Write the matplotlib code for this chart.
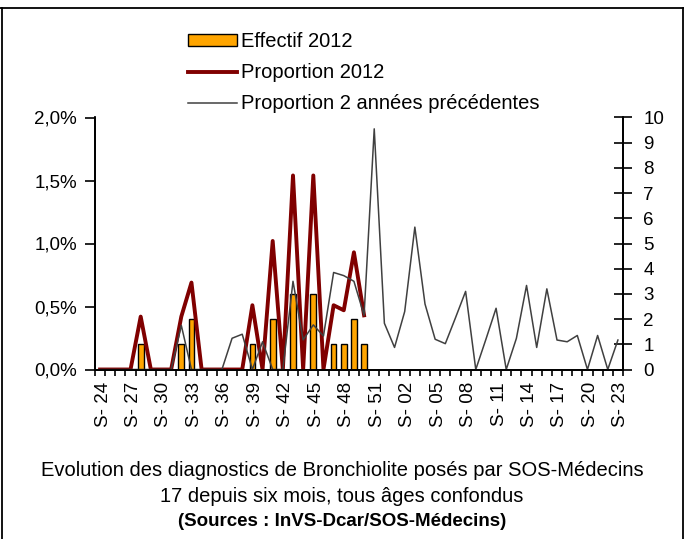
import matplotlib
matplotlib.use("Agg")
import matplotlib.pyplot as plt
import matplotlib.transforms as mtransforms
from matplotlib.lines import Line2D
from matplotlib.ticker import FuncFormatter

# weeks 24..52 of 2012 then 1..23 of 2013
weeks = list(range(24, 53)) + list(range(1, 24))
week_labels = [f"S- {w:02d}" for w in weeks]

# Effectif 2012 (right axis, counts)
effectif_2012 = [0, 0, 0, 0, 1, 0, 0, 0, 1, 2,
                 0, 0, 0, 0, 0, 1, 0, 2, 0, 3,
                 0, 3, 0, 1, 1, 2, 1]

# Proportion 2012 (left axis, %)
proportion_2012 = [0, 0, 0, 0, 0.42, 0, 0, 0, 0.42, 0.69,
                   0, 0, 0, 0, 0, 0.51, 0, 1.02, 0, 1.54,
                   0, 1.54, 0, 0.51, 0.47, 0.93, 0.43]

# Proportion 2 annees precedentes (left axis, %)
proportion_prec = [0, 0, 0, 0, 0, 0, 0, 0, 0.35, 0,
                   0, 0, 0, 0.248, 0.28, 0, 0.22, 0, 0, 0.70,
                   0.235, 0.354, 0.266, 0.77, 0.745, 0.70, 0.43, 1.91, 0.367, 0.175,
                   0.46, 1.13, 0.52, 0.24, 0.205, 0.41, 0.62, 0, 0.24, 0.486,
                   0, 0.247, 0.667, 0.175, 0.64, 0.234, 0.22, 0.27, 0, 0.27,
                   0, 0.234]

plt.rcParams["font.family"] = ["Liberation Sans", "DejaVu Sans"]

fig = plt.figure(figsize=(6.84, 5.39), dpi=100)
W, H = 684, 539
ax = fig.add_axes([95 / W, 1 - 369.5 / H, (623 - 95) / W, (369.5 - 117.5) / H])
ax2 = ax.twinx()

x_all = list(range(len(weeks)))
x_2012 = list(range(len(effectif_2012)))

bars = ax2.bar(x_2012, effectif_2012, width=0.56, color="#FFA500",
               edgecolor="black", linewidth=1.0, label="Effectif 2012")
line12, = ax.plot(x_2012, [v / 100 for v in proportion_2012], color="#800000",
                  linewidth=2.8, label="Proportion 2012")
lineprec, = ax.plot(x_all, [v / 100 for v in proportion_prec], color="#404040",
                    linewidth=1.1, label="Proportion 2 années précédentes")

ax.set_zorder(ax2.get_zorder() + 1)
ax.patch.set_visible(False)

ax.set_xlim(-0.5, len(weeks) - 0.5)
ax.set_ylim(0, 0.02)
ax2.set_ylim(0, 10)

ax.set_yticks([0, 0.005, 0.01, 0.015, 0.02])
ax.yaxis.set_major_formatter(FuncFormatter(lambda v, p: f"{v * 100:.1f}%".replace(".", ",")))
ax2.set_yticks(range(0, 11))

major = list(range(0, len(weeks), 3))
ax.set_xticks(major)
ax.set_xticklabels([week_labels[i] for i in major], rotation=90)
ax.set_xticks([i - 0.5 for i in range(len(weeks) + 1)], minor=True)
ax.tick_params(axis="x", which="major", length=0, pad=9, labelsize=13.5)
ax.tick_params(axis="x", which="minor", length=4, width=1.2, direction="out")
offset = mtransforms.ScaledTranslation(3 / 100, 0, fig.dpi_scale_trans)
for lab in ax.get_xticklabels():
    lab.set_transform(lab.get_transform() + offset)

ax.tick_params(axis="y", length=7, width=1.2, direction="out", labelsize=13.5, pad=6)
ax2.tick_params(axis="y", length=13, width=1.2, direction="inout", labelsize=13.5, pad=8)

for a in (ax, ax2):
    a.spines["top"].set_visible(False)
    for s in ("left", "right", "bottom"):
        a.spines[s].set_linewidth(1.3)

fig.legend(handles=[bars, line12, lineprec], loc="upper left",
           bbox_to_anchor=(188 / W, 1 - 32 / H), frameon=False, fontsize=14.5,
           handlelength=2.45, handleheight=0.5, handletextpad=0.2,
           labelspacing=0.6, borderpad=0, borderaxespad=0)

title_font = ["Liberation Sans", "DejaVu Sans"]
fig.text(0.5, 1 - 470 / H, "Evolution des diagnostics de Bronchiolite posés par SOS-Médecins",
         ha="center", va="center", fontsize=14.5, family=title_font)
fig.text(0.5, 1 - 496 / H, "17 depuis six mois, tous âges confondus",
         ha="center", va="center", fontsize=14.5, family=title_font)
fig.text(0.5, 1 - 521 / H, "(Sources : InVS-Dcar/SOS-Médecins)",
         ha="center", va="center", fontsize=13.5, fontweight="bold", family=title_font)

# outer frame (top, left, right)
for xs, ys in [([0, 1], [1 - 8 / H, 1 - 8 / H]),
               ([1.5 / W, 1.5 / W], [0, 1 - 8 / H]),
               ([1 - 1.5 / W, 1 - 1.5 / W], [0, 1 - 8 / H])]:
    fig.add_artist(Line2D(xs, ys, color="black", linewidth=1.3, transform=fig.transFigure))

fig.savefig("out.png", dpi=100)
